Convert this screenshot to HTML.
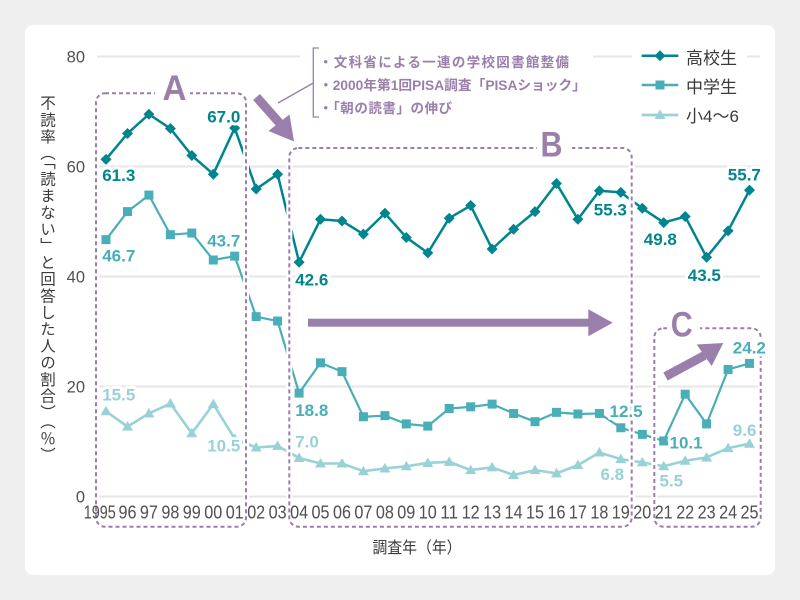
<!DOCTYPE html>
<html><head><meta charset="utf-8">
<style>
html,body{margin:0;padding:0;}
body{width:800px;height:600px;background:#efefef;position:relative;overflow:hidden;font-family:"Liberation Sans","Noto Sans CJK JP",sans-serif;}
svg{position:absolute;left:0;top:0;}
.yt{position:absolute;left:40px;top:95px;writing-mode:vertical-rl;font-size:15.5px;line-height:16px;letter-spacing:1.2px;color:#3a3a3a;font-family:"Noto Sans CJK JP","Liberation Sans",sans-serif;white-space:nowrap;}
</style></head>
<body>
<svg width="800" height="600" viewBox="0 0 800 600" xmlns="http://www.w3.org/2000/svg">
<defs>
<polygon id="dm" points="0,-5.5 5.5,0 0,5.5 -5.5,0" fill="#00858f"/>
<rect id="sq" x="-4.5" y="-4.5" width="9" height="9" fill="#4aaeb8"/>
<polygon id="tr" points="0,-5.5 5.5,4 -5.5,4" fill="#99d2d6"/>
</defs>
<rect x="25" y="25" width="750" height="550" rx="8" fill="#ffffff"/>

<!-- gridlines -->
<g stroke="#e6e6e6" stroke-width="2">
<line x1="97" y1="56.5" x2="300" y2="56.5"/>
<line x1="593" y1="56.5" x2="632" y2="56.5"/>
<line x1="747" y1="56.5" x2="760" y2="56.5"/>
<line x1="97" y1="166.5" x2="760" y2="166.5"/>
<line x1="97" y1="276.5" x2="760" y2="276.5"/>
<line x1="97" y1="386.5" x2="760" y2="386.5"/>
<line x1="97" y1="496.5" x2="760" y2="496.5"/>
</g>

<!-- y tick labels -->
<g font-family="Liberation Sans, sans-serif" font-size="16.5" fill="#505050" text-anchor="end">
<text x="85" y="62.5">80</text>
<text x="85" y="172.5">60</text>
<text x="85" y="282.5">40</text>
<text x="85" y="392.5">20</text>
<text x="85" y="502.5">0</text>
</g>

<!-- series lines -->
<polyline fill="none" stroke="#00858f" stroke-width="2.5" stroke-linejoin="round" points="106.0,159.35 127.5,133.5 148.9,114.25 170.4,128.55 191.8,155.5 213.3,174.2 234.7,128.0 256.2,189.05 277.6,174.2 299.1,262.2 320.5,219.3 342.0,220.95 363.4,234.15 384.9,213.25 406.3,237.45 427.8,252.85 449.2,218.2 470.7,205.55 492.1,249.0 513.6,229.2 535.0,211.6 556.5,183.55 577.9,219.3 599.4,190.7 620.8,192.35 642.3,208.3 663.7,222.6 685.2,216.55 706.6,257.25 728.1,230.85 749.5,190.15"/>
<polyline fill="none" stroke="#4aaeb8" stroke-width="2.2" stroke-linejoin="round" points="106.0,239.65 127.5,211.6 148.9,195.1 170.4,234.7 191.8,233.05 213.3,260.0 234.7,256.15 256.2,316.65 277.6,321.05 299.1,393.1 320.5,362.85 342.0,371.65 363.4,416.75 384.9,415.65 406.3,423.9 427.8,426.1 449.2,408.5 470.7,406.85 492.1,404.1 513.6,413.45 535.0,421.7 556.5,412.35 577.9,414.0 599.4,413.45 620.8,427.75 642.3,434.35 663.7,440.95 685.2,394.2 706.6,423.9 728.1,369.45 749.5,363.4"/>
<polyline fill="none" stroke="#99d2d6" stroke-width="2.6" stroke-linejoin="round" points="106.0,411.25 127.5,426.65 148.9,413.45 170.4,403.55 191.8,433.25 213.3,404.1 234.7,438.75 256.2,447.55 277.6,445.9 299.1,458.0 320.5,463.5 342.0,463.5 363.4,471.2 384.9,468.45 406.3,466.25 427.8,462.95 449.2,461.85 470.7,470.1 492.1,467.35 513.6,475.05 535.0,470.1 556.5,473.4 577.9,465.15 599.4,452.5 620.8,459.1 642.3,462.4 663.7,466.25 685.2,460.75 706.6,457.45 728.1,448.1 749.5,443.7"/>

<!-- dashed boxes: white underlay then dashes -->
<g fill="none" stroke="#ffffff" stroke-width="6">
<rect x="96" y="93.3" width="150" height="433.4" rx="9"/>
<rect x="289.3" y="148" width="342.4" height="378.7" rx="9"/>
<rect x="654.3" y="328.3" width="106.4" height="198.4" rx="9"/>
</g>
<g fill="none" stroke="#9a7eab" stroke-width="2" stroke-dasharray="4 3">
<rect x="96" y="93.3" width="150" height="433.4" rx="9"/>
<rect x="289.3" y="148" width="342.4" height="378.7" rx="9"/>
<rect x="654.3" y="328.3" width="106.4" height="198.4" rx="9"/>
</g>
<g fill="#ffffff">
<rect x="155" y="88" width="35" height="11"/>
<rect x="537" y="143" width="35" height="11"/>
<rect x="667" y="323" width="33" height="11"/>
</g>
<g font-family="Liberation Sans, sans-serif" font-weight="bold" font-size="35" fill="#9a7eab" text-anchor="middle">
<text x="174.5" y="100" textLength="24" lengthAdjust="spacingAndGlyphs">A</text>
<text x="551.5" y="156.5" textLength="22" lengthAdjust="spacingAndGlyphs">B</text>
<text x="681.7" y="336.5" textLength="22" lengthAdjust="spacingAndGlyphs">C</text>
</g>

<!-- markers -->
<g>
<use href="#dm" x="106.0" y="159.35"/><use href="#dm" x="127.5" y="133.5"/><use href="#dm" x="148.9" y="114.25"/><use href="#dm" x="170.4" y="128.55"/><use href="#dm" x="191.8" y="155.5"/><use href="#dm" x="213.3" y="174.2"/><use href="#dm" x="234.7" y="128.0"/><use href="#dm" x="256.2" y="189.05"/><use href="#dm" x="277.6" y="174.2"/><use href="#dm" x="299.1" y="262.2"/><use href="#dm" x="320.5" y="219.3"/><use href="#dm" x="342.0" y="220.95"/><use href="#dm" x="363.4" y="234.15"/><use href="#dm" x="384.9" y="213.25"/><use href="#dm" x="406.3" y="237.45"/><use href="#dm" x="427.8" y="252.85"/><use href="#dm" x="449.2" y="218.2"/><use href="#dm" x="470.7" y="205.55"/><use href="#dm" x="492.1" y="249.0"/><use href="#dm" x="513.6" y="229.2"/><use href="#dm" x="535.0" y="211.6"/><use href="#dm" x="556.5" y="183.55"/><use href="#dm" x="577.9" y="219.3"/><use href="#dm" x="599.4" y="190.7"/><use href="#dm" x="620.8" y="192.35"/><use href="#dm" x="642.3" y="208.3"/><use href="#dm" x="663.7" y="222.6"/><use href="#dm" x="685.2" y="216.55"/><use href="#dm" x="706.6" y="257.25"/><use href="#dm" x="728.1" y="230.85"/><use href="#dm" x="749.5" y="190.15"/>
</g>
<g>
<use href="#sq" x="106.0" y="239.65"/><use href="#sq" x="127.5" y="211.6"/><use href="#sq" x="148.9" y="195.1"/><use href="#sq" x="170.4" y="234.7"/><use href="#sq" x="191.8" y="233.05"/><use href="#sq" x="213.3" y="260.0"/><use href="#sq" x="234.7" y="256.15"/><use href="#sq" x="256.2" y="316.65"/><use href="#sq" x="277.6" y="321.05"/><use href="#sq" x="299.1" y="393.1"/><use href="#sq" x="320.5" y="362.85"/><use href="#sq" x="342.0" y="371.65"/><use href="#sq" x="363.4" y="416.75"/><use href="#sq" x="384.9" y="415.65"/><use href="#sq" x="406.3" y="423.9"/><use href="#sq" x="427.8" y="426.1"/><use href="#sq" x="449.2" y="408.5"/><use href="#sq" x="470.7" y="406.85"/><use href="#sq" x="492.1" y="404.1"/><use href="#sq" x="513.6" y="413.45"/><use href="#sq" x="535.0" y="421.7"/><use href="#sq" x="556.5" y="412.35"/><use href="#sq" x="577.9" y="414.0"/><use href="#sq" x="599.4" y="413.45"/><use href="#sq" x="620.8" y="427.75"/><use href="#sq" x="642.3" y="434.35"/><use href="#sq" x="663.7" y="440.95"/><use href="#sq" x="685.2" y="394.2"/><use href="#sq" x="706.6" y="423.9"/><use href="#sq" x="728.1" y="369.45"/><use href="#sq" x="749.5" y="363.4"/>
</g>
<g>
<use href="#tr" x="106.0" y="411.25"/><use href="#tr" x="127.5" y="426.65"/><use href="#tr" x="148.9" y="413.45"/><use href="#tr" x="170.4" y="403.55"/><use href="#tr" x="191.8" y="433.25"/><use href="#tr" x="213.3" y="404.1"/><use href="#tr" x="234.7" y="438.75"/><use href="#tr" x="256.2" y="447.55"/><use href="#tr" x="277.6" y="445.9"/><use href="#tr" x="299.1" y="458.0"/><use href="#tr" x="320.5" y="463.5"/><use href="#tr" x="342.0" y="463.5"/><use href="#tr" x="363.4" y="471.2"/><use href="#tr" x="384.9" y="468.45"/><use href="#tr" x="406.3" y="466.25"/><use href="#tr" x="427.8" y="462.95"/><use href="#tr" x="449.2" y="461.85"/><use href="#tr" x="470.7" y="470.1"/><use href="#tr" x="492.1" y="467.35"/><use href="#tr" x="513.6" y="475.05"/><use href="#tr" x="535.0" y="470.1"/><use href="#tr" x="556.5" y="473.4"/><use href="#tr" x="577.9" y="465.15"/><use href="#tr" x="599.4" y="452.5"/><use href="#tr" x="620.8" y="459.1"/><use href="#tr" x="642.3" y="462.4"/><use href="#tr" x="663.7" y="466.25"/><use href="#tr" x="685.2" y="460.75"/><use href="#tr" x="706.6" y="457.45"/><use href="#tr" x="728.1" y="448.1"/><use href="#tr" x="749.5" y="443.7"/>
</g>

<!-- data labels -->
<g font-family="Liberation Sans, sans-serif" font-weight="bold" font-size="17" stroke="#ffffff" stroke-width="6" stroke-linejoin="round" paint-order="stroke">
<g fill="#00858f">
<text x="102.2" y="181">61.3</text>
<text x="207.2" y="122.3">67.0</text>
<text x="295.2" y="285.7">42.6</text>
<text x="593.8" y="215.7">55.3</text>
<text x="643.8" y="245">49.8</text>
<text x="687.8" y="281">43.5</text>
<text x="727.8" y="180.7">55.7</text>
</g>
<g fill="#4aaeb8">
<text x="102.2" y="261.7">46.7</text>
<text x="207.2" y="246.7">43.7</text>
<text x="295.2" y="416">18.8</text>
<text x="609.5" y="417">12.5</text>
<text x="669.5" y="448.3">10.1</text>
<text x="732.8" y="353.3">24.2</text>
</g>
<g fill="#99d2d6">
<text x="102.2" y="400.7">15.5</text>
<text x="207.2" y="451.7">10.5</text>
<text x="295.2" y="447.7">7.0</text>
<text x="600.5" y="480">6.8</text>
<text x="659.5" y="486.7">5.5</text>
<text x="732.8" y="436">9.6</text>
</g>
</g>

<!-- x labels -->
<g font-family="Liberation Sans, sans-serif" font-size="18" fill="#505050" text-anchor="middle">
<text x="99.7" y="518.5" textLength="32" lengthAdjust="spacingAndGlyphs">1995</text>
<text x="127.5" y="518.5" textLength="18" lengthAdjust="spacingAndGlyphs">96</text><text x="148.9" y="518.5" textLength="18" lengthAdjust="spacingAndGlyphs">97</text><text x="170.4" y="518.5" textLength="18" lengthAdjust="spacingAndGlyphs">98</text><text x="191.8" y="518.5" textLength="18" lengthAdjust="spacingAndGlyphs">99</text><text x="213.3" y="518.5" textLength="18" lengthAdjust="spacingAndGlyphs">00</text><text x="234.7" y="518.5" textLength="18" lengthAdjust="spacingAndGlyphs">01</text><text x="256.2" y="518.5" textLength="18" lengthAdjust="spacingAndGlyphs">02</text><text x="277.6" y="518.5" textLength="18" lengthAdjust="spacingAndGlyphs">03</text><text x="299.1" y="518.5" textLength="18" lengthAdjust="spacingAndGlyphs">04</text><text x="320.5" y="518.5" textLength="18" lengthAdjust="spacingAndGlyphs">05</text><text x="342.0" y="518.5" textLength="18" lengthAdjust="spacingAndGlyphs">06</text><text x="363.4" y="518.5" textLength="18" lengthAdjust="spacingAndGlyphs">07</text><text x="384.9" y="518.5" textLength="18" lengthAdjust="spacingAndGlyphs">08</text><text x="406.3" y="518.5" textLength="18" lengthAdjust="spacingAndGlyphs">09</text><text x="427.8" y="518.5" textLength="18" lengthAdjust="spacingAndGlyphs">10</text><text x="449.2" y="518.5" textLength="18" lengthAdjust="spacingAndGlyphs">11</text><text x="470.7" y="518.5" textLength="18" lengthAdjust="spacingAndGlyphs">12</text><text x="492.1" y="518.5" textLength="18" lengthAdjust="spacingAndGlyphs">13</text><text x="513.6" y="518.5" textLength="18" lengthAdjust="spacingAndGlyphs">14</text><text x="535.0" y="518.5" textLength="18" lengthAdjust="spacingAndGlyphs">15</text><text x="556.5" y="518.5" textLength="18" lengthAdjust="spacingAndGlyphs">16</text><text x="577.9" y="518.5" textLength="18" lengthAdjust="spacingAndGlyphs">17</text><text x="599.4" y="518.5" textLength="18" lengthAdjust="spacingAndGlyphs">18</text><text x="620.8" y="518.5" textLength="18" lengthAdjust="spacingAndGlyphs">19</text><text x="642.3" y="518.5" textLength="18" lengthAdjust="spacingAndGlyphs">20</text><text x="663.7" y="518.5" textLength="18" lengthAdjust="spacingAndGlyphs">21</text><text x="685.2" y="518.5" textLength="18" lengthAdjust="spacingAndGlyphs">22</text><text x="706.6" y="518.5" textLength="18" lengthAdjust="spacingAndGlyphs">23</text><text x="728.1" y="518.5" textLength="18" lengthAdjust="spacingAndGlyphs">24</text><text x="749.5" y="518.5" textLength="18" lengthAdjust="spacingAndGlyphs">25</text>
</g>
<text x="417" y="553" font-family="Liberation Sans, Noto Sans CJK JP, sans-serif" font-size="16" fill="#3a3a3a" text-anchor="middle" textLength="89" lengthAdjust="spacingAndGlyphs">調査年（年）</text>

<!-- arrows -->
<g fill="#9a7eab">
<line x1="256.5" y1="97" x2="279.5" y2="123" stroke="#9a7eab" stroke-width="9"/>
<polygon points="268.5,131 289.5,114.5 294,141.5"/>
<rect x="308" y="318.7" width="282" height="8"/>
<polygon points="588.3,309.3 612.7,322.7 588.3,336.3"/>
<line x1="665.5" y1="376.5" x2="704.5" y2="355.4" stroke="#9a7eab" stroke-width="9"/>
<polygon points="696.7,344.5 723.3,343 711.7,366"/>
</g>

<!-- annotation -->
<g stroke="#9a7eab" stroke-width="1.3" fill="none">
<polyline points="319,48 313.3,48 313.3,117 319,117"/>
<line x1="313.3" y1="83" x2="278" y2="103"/>
</g>
<g font-family="Liberation Sans, Noto Sans CJK JP, sans-serif" font-weight="bold" font-size="13.5" fill="#9a7eab">
<text x="319" y="67" textLength="250" lengthAdjust="spacing">・文科省による一連の学校図書館整備</text>
<text x="319" y="90" textLength="267" lengthAdjust="spacingAndGlyphs">・2000年第1回PISA調査「PISAショック」</text>
<text x="319" y="113" textLength="133" lengthAdjust="spacing">・「朝の読書」の伸び</text>
</g>

<!-- legend -->
<line x1="641.7" y1="55.7" x2="678.3" y2="55.7" stroke="#00858f" stroke-width="2.5"/>
<use href="#dm" x="660" y="55.7"/>
<line x1="641.7" y1="85" x2="678.3" y2="85" stroke="#4aaeb8" stroke-width="2.5"/>
<use href="#sq" x="660" y="85"/>
<line x1="641.7" y1="115" x2="678.3" y2="115" stroke="#99d2d6" stroke-width="2.8"/>
<use href="#tr" x="660" y="115"/>
<g font-family="Liberation Sans, Noto Sans CJK JP, sans-serif" font-size="17" fill="#3a3a3a">
<text x="686" y="64">高校生</text>
<text x="686" y="93">中学生</text>
<text x="686" y="122">小4〜6</text>
</g>
</svg>
<div class="yt">不読率（「読まない」と回答した人の割合）（％）</div>
</body></html>
